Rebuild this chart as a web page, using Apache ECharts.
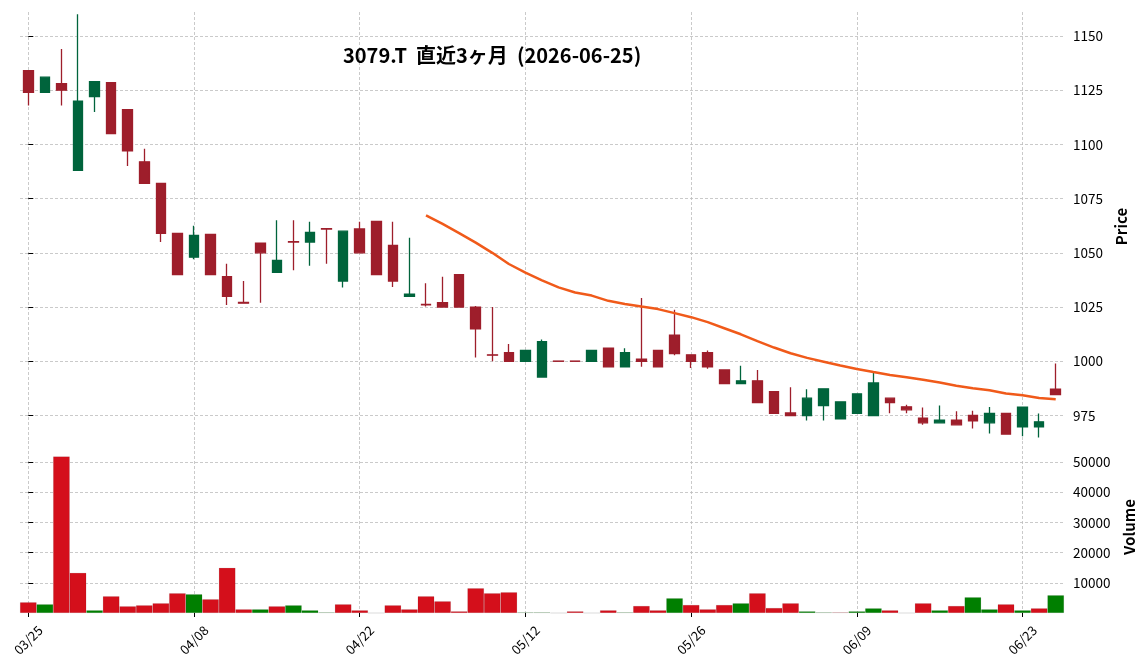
<!DOCTYPE html>
<html>
<head>
<meta charset="utf-8">
<script src="https://cdn.jsdelivr.net/npm/echarts@6.0.0/dist/echarts.min.js"></script>
<style>
html,body{margin:0;padding:0;background:#fff;}
#chart{width:1145px;height:670px;}
</style>
</head>
<body>
<div id="chart"></div>
<script>
const dates = ['03/25','03/26','03/27','03/30','03/31','04/01','04/02','04/03','04/06','04/07',
  '04/08','04/09','04/10','04/13','04/14','04/15','04/16','04/17','04/20','04/21',
  '04/22','04/23','04/24','04/27','04/28','04/30','05/01','05/07','05/08','05/11',
  '05/12','05/13','05/14','05/15','05/18','05/19','05/20','05/21','05/22','05/25',
  '05/26','05/27','05/28','05/29','06/01','06/02','06/03','06/04','06/05','06/08',
  '06/09','06/10','06/11','06/12','06/15','06/16','06/17','06/18','06/19','06/22',
  '06/23','06/24','06/25'];

const opens = [1134,1124,1128,1088,1122,1128.5,1116,1092,1082,1059,
  1048,1058.5,1039,1027.2,1054.5,1041,1055.2,1055,1061.2,1037,
  1061,1064.5,1053.4,1030,1026.2,1027,1040,1025,1003,1004,
  1000,992.7,1000.1,1000.1,1000,1006,997.4,1001,1005,1012,
  1003,1004,996,989.7,991,986,976.2,975,979.6,973.5,
  976,975,983,979,973.8,971.6,972.8,975,971.6,976,
  969.8,969.8,987.2];
const closes = [1124,1131,1125,1120,1129,1105,1097,1082,1059,1040,
  1058,1040,1030,1026.8,1050,1046.5,1055,1059.4,1061,1060,
  1050,1040,1037,1031,1026,1025,1025,1015,1002.8,1000,
  1005,1009,1000,1000,1005,997.4,1004,1000,997.4,1003.5,
  1000,997.4,989.7,991,981,976,975,983,987.3,981.3,
  985,990,981,977.6,971.6,972.8,970.7,972.5,976,966.4,
  978.9,972.1,984.6];
const lows = [1118,1124,1118,1088,1115,1105,1090,1082,1055,1040,
  1047,1040,1026,1026.8,1027,1041,1042,1044,1045,1034,
  1050,1040,1034.3,1030,1025.3,1025,1025,1001.8,1000,1000,
  1000,992.7,1000,1000,1000,997.4,997.4,997.5,997.4,1002.8,
  996.9,996.6,989.7,989.7,981,976,975,972.7,972.7,973.5,
  976,975,976,976,970.7,971.6,970.7,969,966.7,966.4,
  965.4,964.8,984.6];
const highs = [1134,1131,1144,1160,1129,1128.5,1116,1098,1082,1059,
  1062.5,1058.5,1045,1037,1054.5,1065,1065,1064.4,1061.2,1060.3,
  1064.4,1064.5,1064.4,1057,1036,1039,1040,1025.5,1025,1008,
  1005,1010,1000.1,1000.1,1005,1006,1006,1029.2,1005,1023.8,
  1003,1005,996,997.9,996,986,988,987.1,987.3,981.3,
  985,995,983,980,978.7,979.6,977,977.2,978.9,976,
  978.9,975.9,999];
const volumes = [3550,2880,51900,13300,890,5540,2220,2550,3220,6540,
  6210,4550,14970,1220,1220,2220,2550,890,220,2880,
  890,0,2550,1220,5540,3880,550,8200,6540,6870,
  220,220,0,550,0,890,220,2330,890,4880,
  2660,1220,2660,3220,6540,1660,3220,550,220,220,
  550,1550,890,0,3220,890,2330,5210,1220,2880,
  890,1550,5880];
const ma25 = [null,null,null,null,null,null,null,null,null,null,
  null,null,null,null,null,null,null,null,null,null,
  null,null,null,null,1067.31,1063.35,1059.11,1054.71,1050.02,1044.86,
  1040.86,1037.34,1034.06,1031.70,1030.30,1027.88,1026.44,1025.24,1024.06,1022.20,
  1020.34,1018.04,1015.25,1012.45,1009.29,1006.33,1003.73,1001.57,999.82,998.03,
  996.43,995.03,993.67,992.66,991.53,990.24,988.71,987.61,986.65,985.10,
  984.36,983.09,982.47];
const priceTicks = [975,1000,1025,1050,1075,1100,1125,1150];
const volumeTicks = [10000,20000,30000,40000,50000];
const xTickIdx = [0,10,20,30,40,50,60];
const titleText = '3079.T  直近3ヶ月  (2026-06-25)';

const UP = '#00643c', DOWN = '#9e1e2b';
const VUP = '#007f00', VDOWN = '#d40f1b';
const FONT = 'Noto Sans CJK JP';
const gridLine = {show: true, lineStyle: {color: '#bdbdbd', type: [3, 2], width: 0.8}};

const candles = opens.map((o, i) => [o, closes[i], lows[i], highs[i]]);
const volData = volumes.map((v, i) => ({
  value: v,
  itemStyle: {color: (i > 0 && closes[i] > closes[i - 1]) ? VUP : VDOWN}
}));

const chart = echarts.init(document.getElementById('chart'), null, {renderer: 'canvas'});
chart.setOption({
  animation: false,
  backgroundColor: '#fff',
  title: {
    text: titleText, left: 338, top: 40,
    textStyle: {fontFamily: FONT, fontWeight: 'bold', fontSize: 20, color: '#000'}
  },
  grid: [
    {left: 20, right: 81, top: 12, height: 429},
    {left: 20, right: 81, top: 441, height: 172}
  ],
  xAxis: [
    {type: 'category', gridIndex: 0, data: dates, show: false, position: 'top', boundaryGap: true},
    {type: 'category', gridIndex: 1, data: dates, show: false, position: 'top', boundaryGap: true},
    {type: 'value', gridIndex: 0, min: -0.5, max: 62.5, position: 'bottom',
      axisLine: {show: false}, axisLabel: {show: false},
      axisTick: {show: false, customValues: xTickIdx}, splitLine: gridLine},
    {type: 'value', gridIndex: 1, min: -0.5, max: 62.5, position: 'bottom',
      axisLine: {show: false},
      axisLabel: {customValues: xTickIdx, formatter: v => dates[Math.round(v)] || '',
        rotate: 45, align: 'center', verticalAlign: 'middle', margin: 27,
        fontFamily: FONT, fontSize: 13, color: '#000'},
      axisTick: {show: true, customValues: xTickIdx, length: 4, lineStyle: {color: '#000', width: 1}},
      splitLine: gridLine}
  ],
  yAxis: [
    {type: 'value', gridIndex: 0, position: 'right', min: 963.24, max: 1161.07, scale: true,
      axisLine: {show: false},
      axisTick: {show: true, customValues: priceTicks, length: 5, lineStyle: {color: '#000', width: 1}},
      axisLabel: {customValues: priceTicks, formatter: v => String(v), margin: 9,
        fontFamily: FONT, fontSize: 13.5, color: '#000'},
      splitLine: gridLine,
      name: 'Price', nameLocation: 'middle', nameRotate: 90, nameGap: 47,
      nameTextStyle: {fontFamily: FONT, fontWeight: 'bold', fontSize: 15, color: '#000'}},
    {type: 'value', gridIndex: 1, position: 'right', min: 0, max: 57000,
      axisLine: {show: false},
      axisTick: {show: true, customValues: volumeTicks, length: 5, lineStyle: {color: '#000', width: 1}},
      axisLabel: {customValues: volumeTicks, formatter: v => String(v), margin: 9,
        fontFamily: FONT, fontSize: 13.5, color: '#000'},
      splitLine: gridLine,
      name: 'Volume', nameLocation: 'middle', nameRotate: 90, nameGap: 58,
      nameTextStyle: {fontFamily: FONT, fontWeight: 'bold', fontSize: 15, color: '#000'}}
  ],
  series: [
    {type: 'candlestick', xAxisIndex: 0, yAxisIndex: 0, data: candles, barWidth: 10,
      itemStyle: {color: UP, color0: DOWN, borderColor: UP, borderColor0: DOWN, borderWidth: 1.3}},
    {type: 'line', xAxisIndex: 0, yAxisIndex: 0, data: ma25, showSymbol: false, symbol: 'none',
      lineStyle: {color: '#f05a1a', width: 2.5}, z: 5},
    {type: 'bar', xAxisIndex: 1, yAxisIndex: 1, data: volData, barWidth: '100%', barGap: '0%',
      itemStyle: {borderColor: 'rgba(0,0,0,0.15)', borderWidth: 0.5}}
  ]
});
</script>
</body>
</html>
